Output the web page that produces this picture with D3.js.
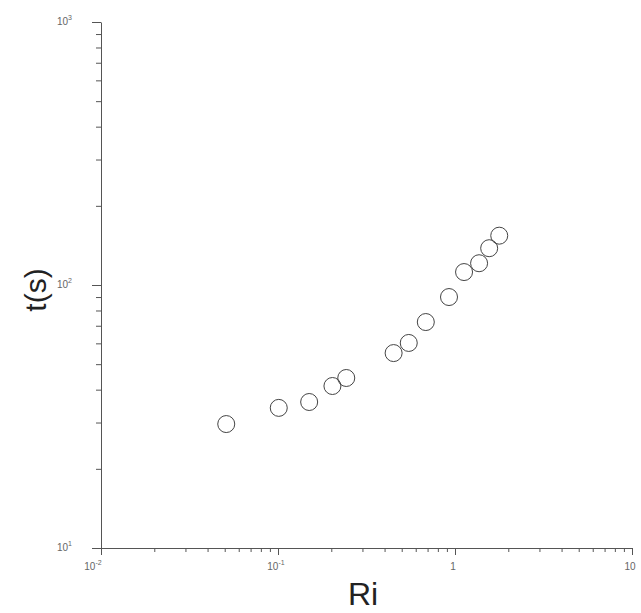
<html>
<head>
  <meta charset="utf-8" />
  <script src="https://cdnjs.cloudflare.com/ajax/libs/d3/7.8.5/d3.min.js"></script>
  <style>
    body { margin: 0; background: #fff; }
    .axis path.domain, .axis line { stroke: #555; stroke-width: 1; }
    .title { fill: #222; font-family: "Liberation Sans", Arial, sans-serif; }
  </style>
</head>
<body>
  <svg width="641" height="613"></svg>
  <script>
    var ri = [0.051, 0.101, 0.150, 0.203, 0.243, 0.450, 0.548, 0.684, 0.925, 1.125, 1.368, 1.56, 1.778]
    var ts = [29.6, 34.1, 35.9, 41.3, 44.3, 55.1, 60.2, 72.3, 90.0, 112, 121, 138, 154]
    var xMajor = [0.01, 0.1, 1, 10]
    var xLabels = [["10", "-2"], ["10", "-1"], ["1", ""], ["10", ""]]
    var yMajor = [10, 100, 1000]
    var yLabels = [["10", "1"], ["10", "2"], ["10", "3"]]

    var svg = d3.select("svg")
    var xScale = d3.scaleLog().domain([0.01, 10]).range([101, 632])
    var yScale = d3.scaleLog().domain([10, 1000]).range([548, 22])

    function minors(lo, hi) {
      var out = []
      for (var d = lo; d < hi; d *= 10)
        for (var k = 1; k < 10; k++) out.push(d * k)
      out.push(hi)
      return out
    }

    var xAxis = d3.axisBottom(xScale)
      .tickValues(minors(0.01, 10))
      .tickSizeOuter(0)
      .tickFormat("")
    var gx = svg.append("g").attr("class", "axis")
      .attr("transform", "translate(0,548)")
      .call(xAxis)
    gx.selectAll(".tick line").attr("y2", d => xMajor.indexOf(d) >= 0 ? 7 : 4)

    var yAxis = d3.axisLeft(yScale)
      .tickValues(minors(10, 1000))
      .tickSizeOuter(0)
      .tickFormat("")
    var gy = svg.append("g").attr("class", "axis")
      .attr("transform", "translate(101,0)")
      .call(yAxis)
    gy.selectAll(".tick line").attr("x2", d => yMajor.indexOf(d) >= 0 ? -9 : -5)

    // tick labels with superscripts
    xMajor.forEach(function(v, i) {
      var t = svg.append("text")
        .attr("x", xScale(v) - (i == 0 ? 8 : 2)).attr("y", 570)
        .attr("text-anchor", "middle")
        .style("fill", "#666").style("font-family", "Liberation Sans, Arial, sans-serif").style("font-size", "10px")
      t.append("tspan").text(xLabels[i][0])
      if (xLabels[i][1]) t.append("tspan").attr("dy", -5).style("font-size", "7px").text(xLabels[i][1])
    })
    yMajor.forEach(function(v, i) {
      var t = svg.append("text")
        .attr("x", 72).attr("y", yScale(v) + 3)
        .attr("text-anchor", "end")
        .style("fill", "#666").style("font-family", "Liberation Sans, Arial, sans-serif").style("font-size", "10px")
      t.append("tspan").text(yLabels[i][0])
      t.append("tspan").attr("dy", -5).style("font-size", "7px").text(yLabels[i][1])
    })

    svg.selectAll("circle.pt")
      .data(ri.map((r, i) => [r, ts[i]]))
      .enter()
      .append("circle")
        .attr("class", "pt")
        .attr("cx", d => xScale(d[0]))
        .attr("cy", d => yScale(d[1]))
        .attr("r", 8.5)
        .style("fill", "none")
        .style("stroke", "#444")
        .style("stroke-width", 1)

    svg.append("text").attr("class", "title")
      .attr("x", 363).attr("y", 605)
      .attr("text-anchor", "middle")
      .style("font-size", "32px")
      .text("Ri")

    svg.append("text").attr("class", "title")
      .attr("transform", "translate(46,290) rotate(-90)")
      .attr("text-anchor", "middle")
      .style("font-size", "30px")
      .text("t(s)")
  </script>
</body>
</html>
